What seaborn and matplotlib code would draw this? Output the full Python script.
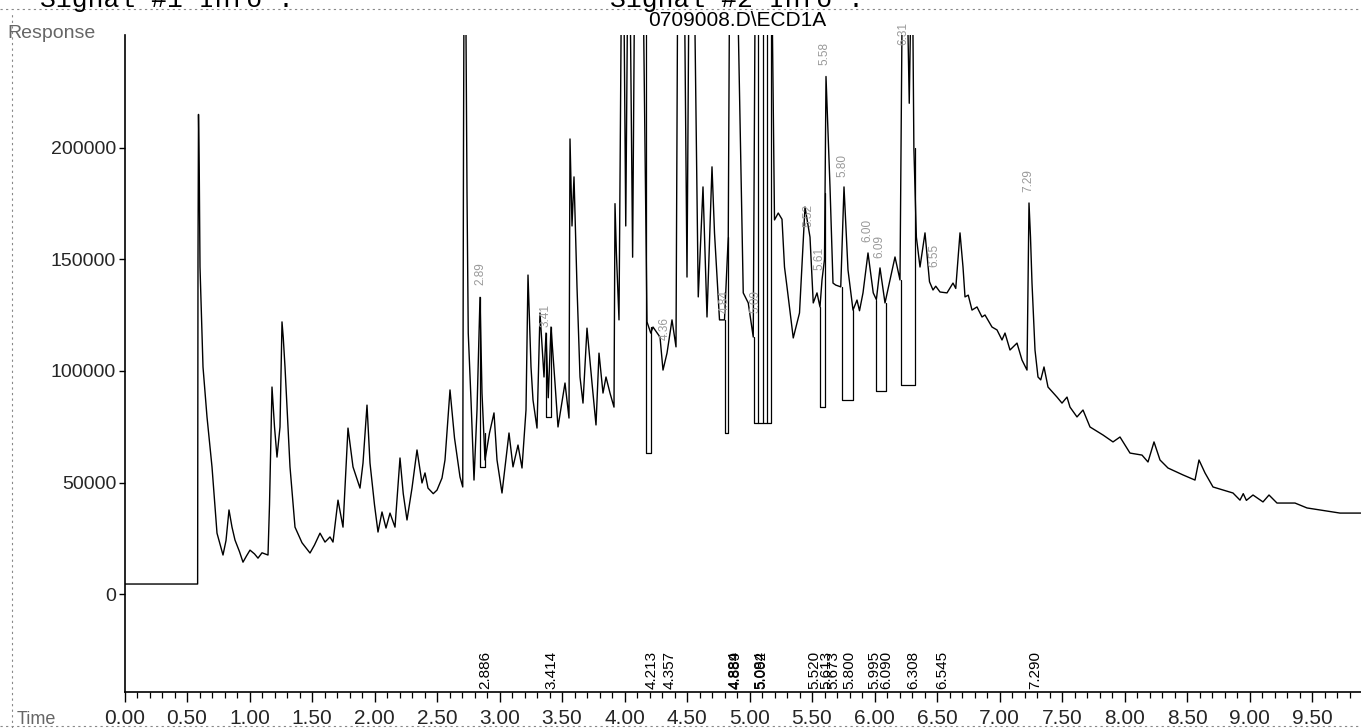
import numpy as np
import pandas as pd
import seaborn as sns
import matplotlib.pyplot as plt
from matplotlib.lines import Line2D
from matplotlib.ticker import MultipleLocator, FuncFormatter
import matplotlib.transforms as mtransforms

# chromatogram trace (time in min, response in counts)
# values of 270000 are peaks running off the top of the plot
trace_time = [
    0.000, 0.585, 0.588, 0.592, 0.598, 0.604, 0.628, 0.660, 0.700, 0.740,
    0.788, 0.812, 0.836, 0.860, 0.884, 0.920, 0.948, 0.975, 1.004, 1.040,
    1.068, 1.100, 1.148, 1.160, 1.180, 1.200, 1.220, 1.244, 1.260, 1.270,
    1.284, 1.324, 1.364, 1.420, 1.484, 1.520, 1.564, 1.604, 1.644, 1.668,
    1.708, 1.748, 1.788, 1.828, 1.884, 1.908, 1.940, 1.964, 2.000, 2.028,
    2.060, 2.092, 2.124, 2.164, 2.204, 2.230, 2.260, 2.300, 2.340, 2.380,
    2.404, 2.428, 2.470, 2.500, 2.540, 2.564, 2.604, 2.640, 2.684, 2.706,
    2.712, 2.716, 2.730, 2.740, 2.750, 2.772, 2.796, 2.820, 2.844, 2.860,
    2.884, 2.920, 2.956, 2.980, 3.020, 3.076, 3.108, 3.148, 3.180, 3.212,
    3.228, 3.252, 3.268, 3.300, 3.324, 3.356, 3.372, 3.390, 3.412, 3.444,
    3.468, 3.524, 3.556, 3.564, 3.580, 3.596, 3.620, 3.644, 3.668, 3.700,
    3.740, 3.772, 3.796, 3.828, 3.852, 3.884, 3.916, 3.924, 3.935, 3.956,
    3.975, 3.995, 4.010, 4.025, 4.045, 4.065, 4.080, 4.150, 4.180, 4.210,
    4.228, 4.284, 4.308, 4.340, 4.380, 4.412, 4.425, 4.480, 4.500, 4.515,
    4.560, 4.590, 4.628, 4.660, 4.700, 4.720, 4.760, 4.800, 4.830, 4.840,
    4.905, 4.950, 4.990, 5.030, 5.045, 5.180, 5.200, 5.230, 5.260, 5.280,
    5.300, 5.350, 5.400, 5.444, 5.484, 5.510, 5.540, 5.564, 5.580, 5.600,
    5.612, 5.644, 5.668, 5.690, 5.730, 5.756, 5.788, 5.828, 5.860, 5.880,
    5.908, 5.948, 5.990, 6.015, 6.044, 6.084, 6.124, 6.164, 6.204, 6.222,
    6.262, 6.278, 6.292, 6.305, 6.315, 6.335, 6.364, 6.404, 6.440, 6.468,
    6.490, 6.524, 6.580, 6.628, 6.650, 6.684, 6.708, 6.724, 6.750, 6.780,
    6.820, 6.860, 6.884, 6.940, 6.980, 7.020, 7.044, 7.084, 7.140, 7.180,
    7.220, 7.228, 7.236, 7.248, 7.260, 7.284, 7.308, 7.330, 7.356, 7.388,
    7.460, 7.500, 7.540, 7.564, 7.620, 7.668, 7.724, 7.828, 7.908, 7.964,
    8.044, 8.140, 8.188, 8.236, 8.284, 8.348, 8.468, 8.564, 8.596, 8.644,
    8.708, 8.868, 8.924, 8.950, 8.975, 9.028, 9.108, 9.156, 9.220, 9.364,
    9.460, 9.564, 9.724, 9.890,
]
trace_resp = [
    4500, 4500, 150000, 215000, 190000, 146600, 101800, 79400, 57000, 27300,
    17500, 24000, 37700, 30000, 24200, 19000, 14300, 17000, 19700, 18000,
    16100, 18500, 17500, 40000, 92800, 75000, 61400, 74900, 122000, 115000,
    101800, 57000, 30000, 23000, 18400, 22000, 27300, 23300, 25600, 23300,
    42100, 30000, 74400, 57000, 47500, 58700, 84700, 58700, 40000, 27800,
    36800, 29600, 36300, 30000, 61000, 45000, 33200, 47500, 64600, 49800,
    54300, 47500, 45000, 46600, 52000, 60100, 91500, 70000, 52500, 48000,
    200000, 270000, 270000, 180000, 117000, 87000, 51100, 82500, 133000, 90000,
    60100, 72200, 81200, 60100, 45300, 72200, 57000, 66800, 56500, 82500,
    143000, 101800, 87000, 74400, 126000, 97300, 117000, 88000, 119700, 94600,
    74900, 94600, 78900, 204000, 165000, 187000, 137700, 97300, 85600, 119200,
    94600, 75800, 108000, 90100, 97300, 90100, 83800, 175000, 153000, 122900,
    270000, 270000, 165000, 270000, 270000, 151000, 270000, 270000, 122000, 117000,
    119700, 115200, 100400, 108000, 122900, 110800, 270000, 270000, 142100, 270000,
    270000, 133200, 182500, 124200, 191500, 161900, 122900, 122900, 160000, 270000,
    270000, 135000, 130500, 115200, 270000, 270000, 167700, 170800, 168000, 146600,
    137700, 114800, 126000, 173500, 160000, 130500, 135000, 128700, 140800, 150000,
    232000, 182500, 139400, 138500, 137700, 182500, 145300, 127300, 131800, 127000,
    135000, 152900, 135000, 132000, 146200, 130500, 140800, 151100, 140800, 270000,
    270000, 220000, 270000, 270000, 200000, 160000, 146600, 161900, 140000, 136300,
    138000, 135400, 135000, 139400, 137000, 161900, 146600, 133200, 134000, 127300,
    128700, 124200, 125100, 119700, 118400, 113900, 117000, 109400, 112500, 104900,
    100400, 140000, 175300, 160000, 139400, 109400, 97300, 96000, 101800, 92800,
    88300, 85600, 88300, 83800, 79400, 82500, 74900, 71300, 68200, 70400,
    63200, 62300, 59200, 68200, 60100, 56500, 53400, 51100, 60100, 54300,
    48000, 45300, 42100, 45000, 42000, 44400, 41300, 44400, 40800, 40800,
    38600, 37700, 36300, 36300,
]

# integration baselines drawn under the peaks
base_start = [2.846, 3.374, 4.168, 4.800, 5.035, 5.564, 5.740, 6.015, 6.215]
base_end = [2.882, 3.410, 4.212, 4.830, 5.175, 5.605, 5.830, 6.090, 6.320]
base_level = [57000, 79400, 63200, 72200, 76700, 83800, 87000, 91000, 93500]
base_left_top = [133000, 117000, 270000, 122900, 115200, 128700, 137700, 132000, 140800]
base_right_top = [72000, 119700, 119700, 160000, 270000, 180000, 127300, 130500, 200000]
drop_time = [5.070, 5.105, 5.140]
drop_level = 76700

# integration event times printed along the time axis
event_times = [2.886, 3.414, 4.213, 4.357, 4.884, 4.889, 5.084, 5.092, 5.520,
               5.613, 5.673, 5.800, 5.995, 6.090, 6.308, 6.545, 7.290]

# faint peak labels above the peaks
peak_text = ["2.89", "3.41", "4.36", "4.84", "5.09", "5.52", "5.61", "5.58",
             "5.80", "6.00", "6.09", "6.31", "6.55", "7.29"]
peak_time = [2.85, 3.37, 4.32, 4.80, 5.05, 5.47, 5.556, 5.60,
             5.74, 5.94, 6.04, 6.23, 6.48, 7.23]
peak_resp = [138500, 119700, 113900, 126000, 126000, 164600, 145300, 237200,
             187000, 157800, 150700, 246200, 146600, 180300]

sns.set_theme(style="white")
plt.rcParams['font.family'] = ['Liberation Sans', 'DejaVu Sans']

fig = plt.figure(figsize=(13.61, 7.28), dpi=100)
ax = fig.add_axes([124.5 / 1361, 36 / 728, 1 - 124.5 / 1361, 657 / 728])

trace = pd.DataFrame({"time": trace_time, "response": trace_resp})
sns.lineplot(data=trace, x="time", y="response", estimator=None, sort=False,
             color="black", linewidth=1.0, ax=ax)

rows = []
for i in range(len(base_start)):
    rows += [(i, base_start[i], base_left_top[i]), (i, base_start[i], base_level[i]),
             (i, base_end[i], base_level[i]), (i, base_end[i], base_right_top[i])]
n = len(base_start)
for j, t in enumerate(drop_time):
    rows += [(n + j, t, drop_level), (n + j, t, 270000)]
base = pd.DataFrame(rows, columns=["seg", "time", "response"])
sns.lineplot(data=base, x="time", y="response", units="seg", estimator=None,
             sort=False, color="black", linewidth=0.9, ax=ax, legend=False)

ax.set_xlim(0, 9.892)
ax.set_ylim(-43900, 250600)
ax.set_xlabel("")
ax.set_ylabel("")

ax.xaxis.set_major_locator(MultipleLocator(0.5))
ax.xaxis.set_minor_locator(MultipleLocator(0.1))
ax.xaxis.set_major_formatter(FuncFormatter(lambda v, p: f"{v:.2f}" if v < 9.8 else ""))
ax.set_yticks([0, 50000, 100000, 150000, 200000])
ax.yaxis.set_major_formatter(FuncFormatter(lambda v, p: f"{int(v)}"))

ax.tick_params(axis="x", which="major", direction="out", length=7, width=1,
               color="black", labelsize=15, pad=5, bottom=True)
ax.tick_params(axis="x", which="minor", direction="out", length=4, width=0.9,
               color="black", bottom=True)
ax.tick_params(axis="y", which="major", direction="out", length=4, width=1,
               color="black", labelsize=14, pad=2, left=True)

for side in ["top", "right"]:
    ax.spines[side].set_visible(False)
for side in ["left", "bottom"]:
    ax.spines[side].set_color("black")
    ax.spines[side].set_linewidth(1.2)

# event times along the bottom
trans = mtransforms.blended_transform_factory(ax.transData, ax.transAxes)
for t in event_times:
    ax.text(t, 0.004, f"{t:.3f}", transform=trans, rotation=90, ha="center",
            va="bottom", fontsize=11, color="black")

# faint peak labels
for txt, t, r in zip(peak_text, peak_time, peak_resp):
    ax.text(t, r, txt, rotation=90, ha="center", va="bottom", fontsize=8.5,
            color="#999999", clip_on=False)

# page text around the plot
fig.text(737 / 1361, 1 - 20 / 728, "0709008.D\\ECD1A", ha="center", va="center",
         fontsize=15, color="black")
fig.text(7 / 1361, 1 - 33 / 728, "Response", ha="left", va="center",
         fontsize=14, color="#666666")
fig.text(17 / 1361, 1 - 719 / 728, "Time", ha="left", va="center",
         fontsize=13, color="#666666")
fig.text(40 / 1361, 1 - 7 / 728, "Signal #1 Info :", ha="left", va="baseline",
         fontsize=19, family="Liberation Mono", color="black")
fig.text(610 / 1361, 1 - 7 / 728, "Signal #2 Info :", ha="left", va="baseline",
         fontsize=19, family="Liberation Mono", color="black")

# dotted scan edges
fig.add_artist(Line2D([0, 1], [1 - 9 / 728, 1 - 9 / 728], transform=fig.transFigure,
                      color="#888888", lw=0.8, ls=(0, (2, 3))))
fig.add_artist(Line2D([12 / 1361, 12 / 1361], [0, 1 - 12 / 728], transform=fig.transFigure,
                      color="#888888", lw=0.8, ls=(0, (2, 3))))
fig.add_artist(Line2D([0, 1], [2 / 728, 2 / 728], transform=fig.transFigure,
                      color="#888888", lw=0.8, ls=(0, (2, 3))))

fig.savefig("out.png", dpi=100)
